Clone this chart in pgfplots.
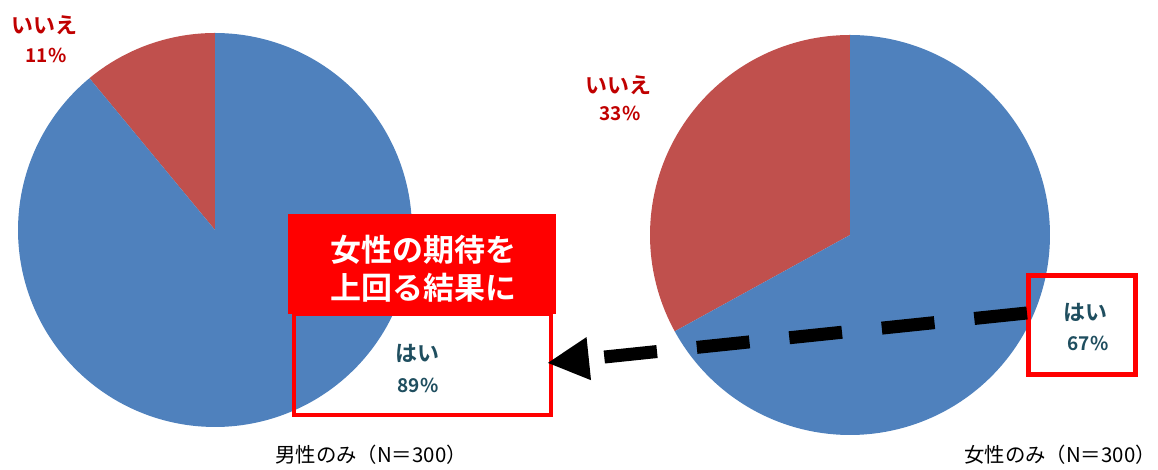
\documentclass[border=0pt]{standalone}
\usepackage{pgfplots}
\pgfplotsset{compat=1.18}
\usepackage{fontspec}
\setmainfont{Noto Sans CJK JP}[BoldFont={Noto Sans CJK JP Bold}]
\usetikzlibrary{arrows.meta}
\definecolor{pieblue}{HTML}{4F81BD}
\definecolor{piered}{HTML}{C0504D}
\definecolor{lblred}{HTML}{C00000}
\definecolor{lblteal}{HTML}{1F4E5F}
\definecolor{boxred}{HTML}{FF0000}
% data (percent)
\def\maleyes{89}\def\maleno{11}
\def\femyes{67}\def\femno{33}
\begin{document}
\begin{tikzpicture}
\path[use as bounding box] (0pt,0pt) rectangle (579pt,235pt);
% left pie
\begin{axis}[at={(107.5pt,120pt)}, anchor=origin, hide axis,
  x=98.5pt, y=98.5pt, xmin=-1.05, xmax=1.05, ymin=-1.05, ymax=1.05,
  clip=false]
\addplot[fill=piered, draw=none, variable=\t, domain=90:90+3.6*\maleno, samples=100]
  ({cos(t)},{sin(t)}) -- (0,0) -- cycle;
\addplot[fill=pieblue, draw=none, variable=\t, domain=90+3.6*\maleno:450, samples=200]
  ({cos(t)},{sin(t)}) -- (0,0) -- cycle;
\end{axis}
% right pie
\begin{axis}[at={(425pt,117.5pt)}, anchor=origin, hide axis,
  x=100pt, y=100pt, xmin=-1.05, xmax=1.05, ymin=-1.05, ymax=1.05,
  clip=false]
\addplot[fill=piered, draw=none, variable=\t, domain=90:90+3.6*\femno, samples=100]
  ({cos(t)},{sin(t)}) -- (0,0) -- cycle;
\addplot[fill=pieblue, draw=none, variable=\t, domain=90+3.6*\femno:450, samples=200]
  ({cos(t)},{sin(t)}) -- (0,0) -- cycle;
\end{axis}
% labels
\node[font=\bfseries\fontsize{11pt}{12pt}\selectfont, text=lblred] at (22pt,222.5pt) {いいえ};
\node[font=\bfseries\fontsize{9.5pt}{11pt}\selectfont, text=lblred] at (23pt,207.5pt) {11\%};
\node[font=\bfseries\fontsize{11pt}{12pt}\selectfont, text=lblred] at (309pt,192.5pt) {いいえ};
\node[font=\bfseries\fontsize{9.5pt}{11pt}\selectfont, text=lblred] at (310pt,178.5pt) {33\%};
\node[font=\bfseries\fontsize{11pt}{12pt}\selectfont, text=lblteal] at (208.5pt,58.5pt) {はい};
\node[font=\bfseries\fontsize{9.5pt}{11pt}\selectfont, text=lblteal] at (209pt,42.5pt) {89\%};
\node[font=\bfseries\fontsize{11pt}{12pt}\selectfont, text=lblteal] at (542.5pt,79pt) {はい};
\node[font=\bfseries\fontsize{9.5pt}{11pt}\selectfont, text=lblteal] at (544pt,63.5pt) {67\%};
% annotation boxes
\fill[boxred] (144pt,78pt) rectangle (278pt,128pt);
\node[font=\bfseries\fontsize{15.5pt}{17pt}\selectfont, text=white] at (211.5pt,110pt) {女性の期待を};
\node[font=\bfseries\fontsize{15.5pt}{17pt}\selectfont, text=white] at (211.5pt,91pt) {上回る結果に};
\draw[boxred, line width=2pt] (147pt,78pt) rectangle (275.5pt,27.5pt);
\draw[boxred, line width=2.5pt] (514.25pt,97.25pt) rectangle (567.75pt,47.75pt);
% arrow
\draw[black, line width=6.5pt, dash pattern=on 26.5pt off 20pt,
  -{Triangle[length=21pt,width=20pt]}] (513.5pt,78.5pt) -- (273.5pt,53.5pt);
% captions
\node[font=\fontsize{10.2pt}{12pt}\selectfont] at (185.5pt,7.5pt) {男性のみ（N＝300）};
\node[font=\fontsize{10.2pt}{12pt}\selectfont] at (530pt,7.5pt) {女性のみ（N＝300）};
\end{tikzpicture}
\end{document}
